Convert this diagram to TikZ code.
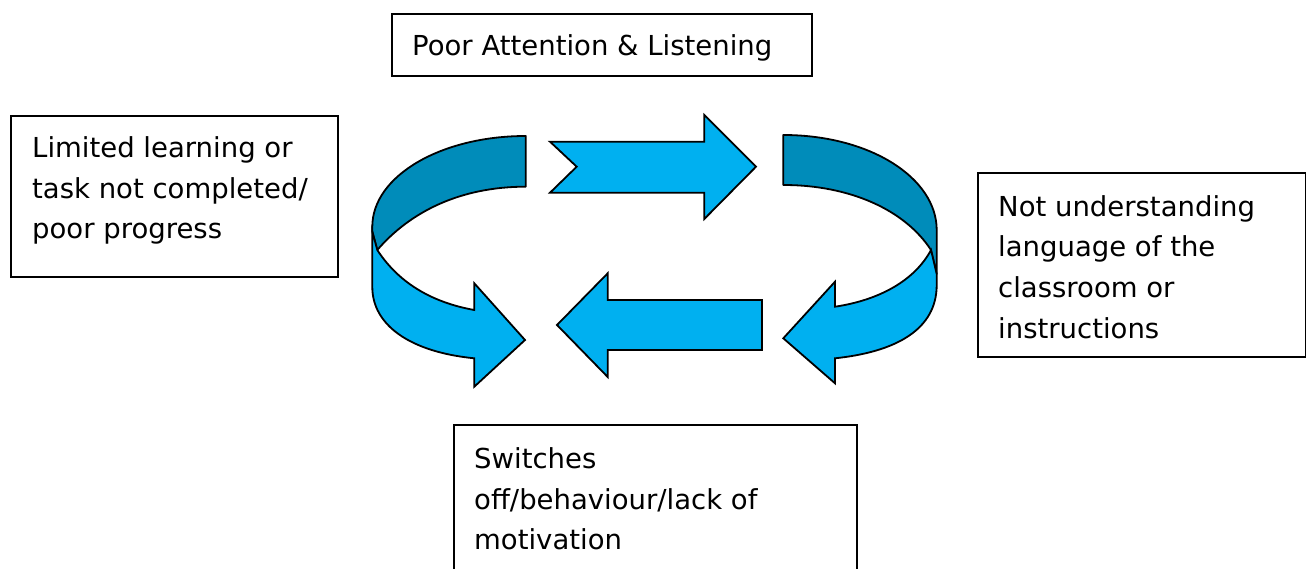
\documentclass[tikz,border=0pt]{standalone}
\usepackage{fontspec}
\setmainfont{DejaVu Sans}
\definecolor{lightblue}{RGB}{0,176,240}
\definecolor{darkblue}{RGB}{0,140,186}
\begin{document}
\begin{tikzpicture}[x=1pt,y=-1pt,
  box/.style={draw=black,line width=1.8pt,anchor=north west,inner sep=0pt},
  txt/.style={anchor=base west,inner sep=0pt,font=\fontsize{27.5}{40.5}\selectfont},
  lightarrow/.style={fill=lightblue,draw=black,line width=1.8pt,line join=miter},
  darkarrow/.style={fill=darkblue,draw=black,line width=1.8pt,line join=round}]
\useasboundingbox (0,0) rectangle (1306,569);
% boxes
\node[box,minimum width=420pt,minimum height=62pt] (topbox) at (391,13) {};
\node[box,minimum width=327pt,minimum height=161pt] (leftbox) at (10,115) {};
\node[box,minimum width=328pt,minimum height=184pt] (rightbox) at (977,172) {};
\node[box,minimum width=403pt,minimum height=160pt] (botbox) at (453,424) {};
% texts
\node[txt] (t1) at (412,56) {Poor Attention \& Listening};
\node[txt] (l1) at (32,158) {Limited learning or};
\node[txt] (l2) at (32,199) {task not completed/};
\node[txt] (l3) at (32,239) {poor progress};
\node[txt] (r1) at (998,217) {Not understanding};
\node[txt] (r2) at (998,257) {language of the};
\node[txt] (r3) at (998,298) {classroom or};
\node[txt] (r4) at (998,338) {instructions};
\node[txt] (b1) at (474,468) {Switches};
\node[txt] (b2) at (474,509) {off/behaviour/lack of};
\node[txt] (b3) at (474,549) {motivation};
% straight arrows
\draw[lightarrow] (550,141.7) -- (704.3,141.7) -- (704.3,115) -- (756,166.7) -- (704.3,219) -- (704.3,192.7) -- (550,192.7) -- (576.7,166.7) -- cycle;
\draw[lightarrow] (557,325) -- (607.7,273.3) -- (607.7,300) -- (762,300) -- (762,350) -- (607.7,350) -- (607.7,377) -- cycle;
% left curved arrow
\draw[darkarrow] (525.7,136) .. controls (441,136) and (372.3,176) .. (372.3,226.7) -- (372.3,231.7) -- (377.3,250) .. controls (410,212) and (460,186.7) .. (525.7,186.7) -- cycle;
\draw[lightarrow] (377.3,250) .. controls (400,285) and (435,303) .. (474.3,310) -- (474.3,283.3) -- (525,340) -- (474.3,386.7) -- (474.3,358.3) .. controls (410,352) and (372.3,325) .. (372.3,287) -- (372.3,231.7) -- cycle;
% right curved arrow
\draw[darkarrow] (783.3,135) .. controls (870,135) and (936.7,178) .. (936.7,230) -- (936.7,274) -- (931,250) .. controls (905,210) and (850,185) .. (783.3,185) -- cycle;
\draw[lightarrow] (931,250) .. controls (915,280) and (880,300) .. (835,306.7) -- (835,281.7) -- (783.3,338.3) -- (835,383.3) -- (835,358.3) .. controls (895,352) and (936.7,330) .. (936.7,285) -- (936.7,274) -- cycle;
\end{tikzpicture}
\end{document}
